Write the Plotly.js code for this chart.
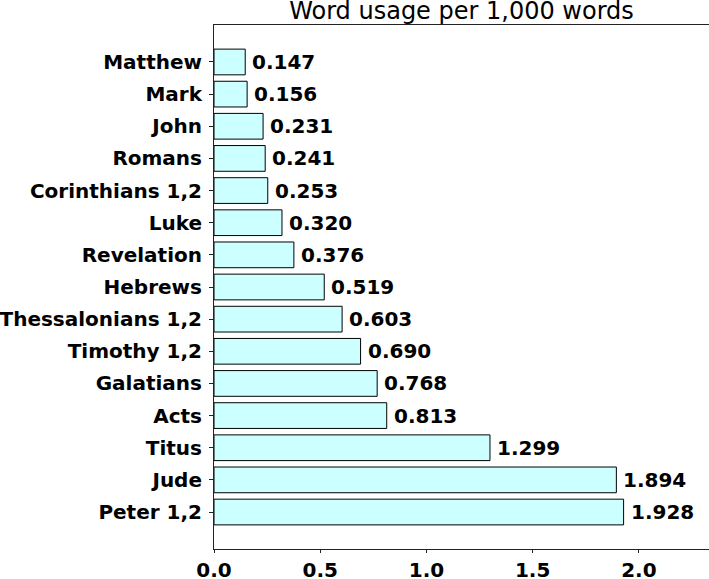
<!DOCTYPE html>
<html><head><meta charset="utf-8">
<script src="https://cdn.plot.ly/plotly-3.0.1.min.js"></script>
<style>html,body{margin:0;padding:0;background:#fff}#chart{width:709px;height:579px}</style>
</head><body><div id="chart"></div>
<script>
const books = ["Matthew","Mark","John","Romans","Corinthians 1,2","Luke","Revelation","Hebrews","Thessalonians 1,2","Timothy 1,2","Galatians","Acts","Titus","Jude","Peter 1,2"];
const usage = [0.147,0.156,0.231,0.241,0.253,0.320,0.376,0.519,0.603,0.690,0.768,0.813,1.299,1.894,1.928];
const xTicks = [0,0.5,1.0,1.5,2.0];
const xTickLabels = ["0.0","0.5","1.0","1.5","2.0"];

const font = {family:"DejaVu Sans", size:20, color:"#000", weight:"bold"};
const trace = {
  type:"bar", orientation:"h", x:usage, y:books, width:0.8,
  marker:{color:"#ccffff", line:{color:"#000", width:1}},
  hoverinfo:"none"
};
const annotations = usage.map((v,i)=>({
  x:v, y:books[i], xref:"x", yref:"y", text:v.toFixed(3),
  showarrow:false, xanchor:"left", yanchor:"middle", xshift:5,
  font:font
}));
const layout = {
  width:709, height:579,
  margin:{l:214, r:0, t:25, b:30},
  paper_bgcolor:"#fff", plot_bgcolor:"#fff",
  showlegend:false,
  title:{text:"Word usage per 1,000 words", font:{family:"DejaVu Sans", size:24, color:"#000"}, xref:"paper", x:0.5, xanchor:"center", yref:"container", y:0.996, yanchor:"top"},
  xaxis:{range:[0,2.33], tickvals:xTicks, ticktext:xTickLabels, showgrid:false, zeroline:false,
         showline:true, mirror:true, linecolor:"#222", linewidth:1,
         ticks:"outside", ticklen:3, tickcolor:"#222", tickfont:font, fixedrange:true},
  yaxis:{type:"category", categoryorder:"array", categoryarray:books, range:[15.15,-1.15],
         showgrid:false, zeroline:false, showline:true, mirror:false, linecolor:"#222", linewidth:1,
         ticks:"outside", ticklen:4, tickcolor:"#222", tickfont:font, ticklabelstandoff:3, fixedrange:true},
  annotations:annotations
};
Plotly.newPlot("chart",[trace],layout,{displayModeBar:false,staticPlot:true});
</script></body></html>
